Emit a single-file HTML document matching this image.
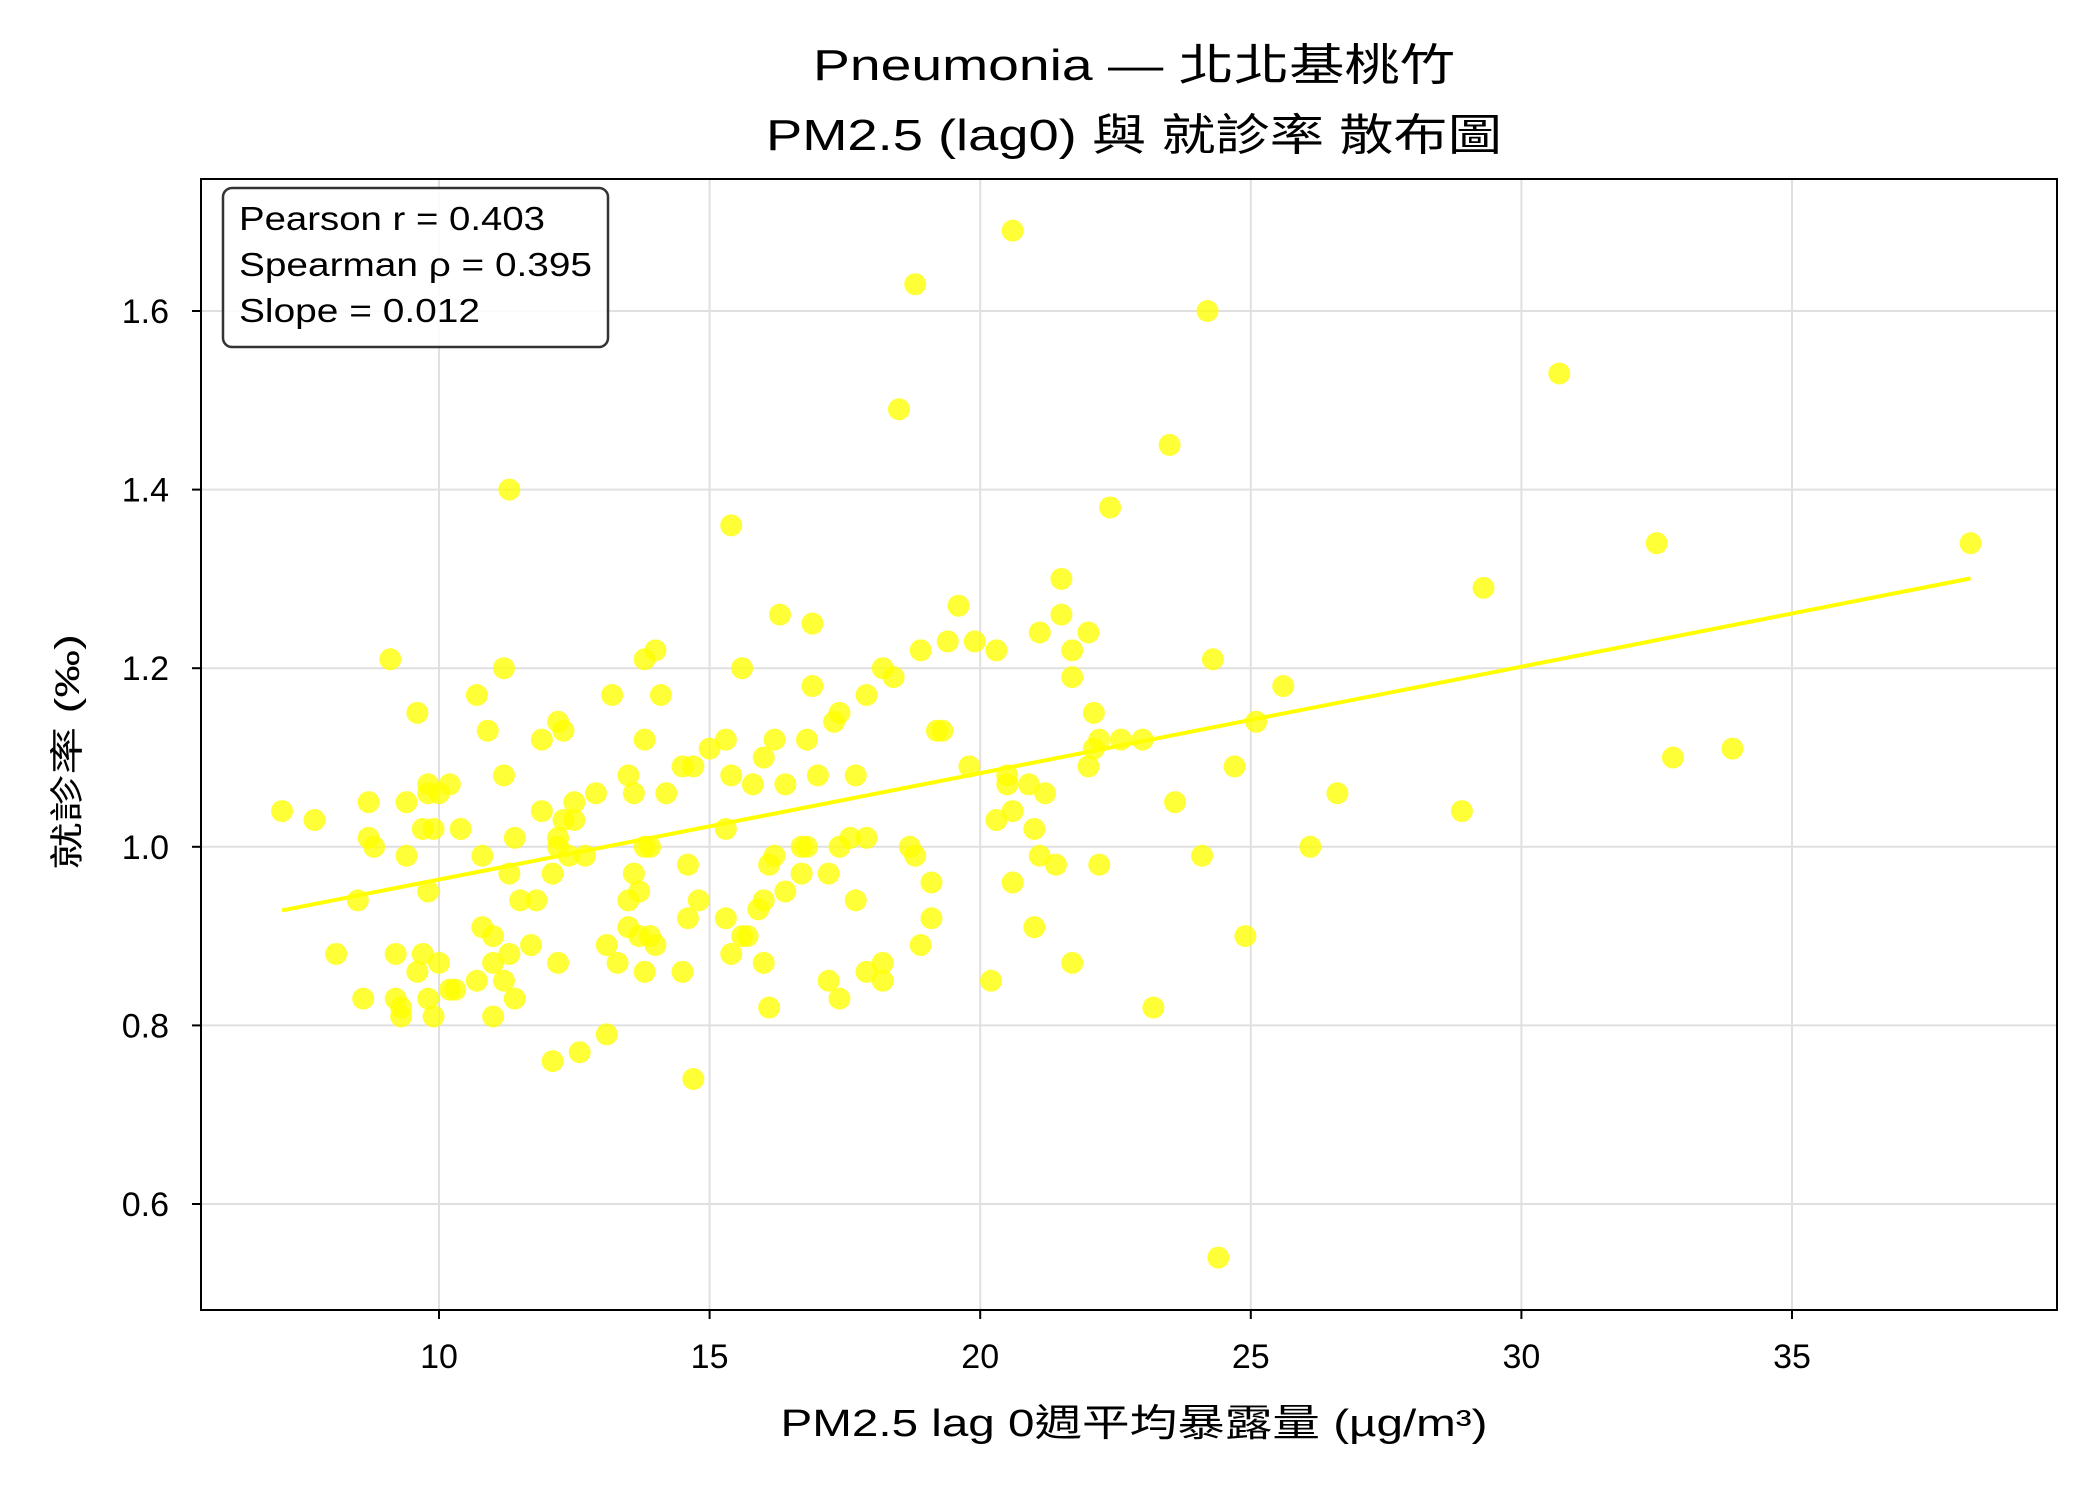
<!DOCTYPE html>
<html><head><meta charset="utf-8"><style>
html,body{margin:0;padding:0;background:#fff;}
svg{display:block;font-family:"Liberation Sans","Noto Sans CJK TC",sans-serif;}
</style></head><body>
<svg id="chart" width="2100" height="1500" viewBox="0 0 2100 1500" xmlns="http://www.w3.org/2000/svg">
<rect width="2100" height="1500" fill="#fff"/>
<text x="1134" y="80" font-size="44" text-anchor="middle" textLength="642" lengthAdjust="spacingAndGlyphs" fill="#000">Pneumonia — 北北基桃竹</text>
<text x="1134" y="150" font-size="44" text-anchor="middle" textLength="736" lengthAdjust="spacingAndGlyphs" fill="#000">PM2.5 (lag0) 與 就診率 散布圖</text>
<g id="grid"></g>
<g id="marks"></g>
<rect x="201" y="179" width="1856" height="1131" fill="none" stroke="#000" stroke-width="2"/>
<g id="axes"></g>
<text x="1134" y="1436" font-size="38" text-anchor="middle" textLength="707" lengthAdjust="spacingAndGlyphs" fill="#000">PM2.5 lag 0週平均暴露量 (µg/m³)</text>
<text transform="translate(79,752) rotate(-90)" font-size="34" text-anchor="middle" textLength="236" lengthAdjust="spacingAndGlyphs" fill="#000">就診率 (‰)</text>
<g>
<rect x="223" y="188" width="385" height="159" rx="9" fill="#fff" fill-opacity="0.85" stroke="#333" stroke-width="2.5"/>
<text x="239" y="230" font-size="33" textLength="306" lengthAdjust="spacingAndGlyphs" fill="#000">Pearson r = 0.403</text>
<text x="239" y="276" font-size="33" textLength="353" lengthAdjust="spacingAndGlyphs" fill="#000">Spearman ρ = 0.395</text>
<text x="239" y="322" font-size="33" textLength="241" lengthAdjust="spacingAndGlyphs" fill="#000">Slope = 0.012</text>
</g>
</svg>
<script>
const xTicks=[10,15,20,25,30,35];
const yTicks=[0.6,0.8,1.0,1.2,1.4,1.6];
const yTickLabels=["0.6","0.8","1.0","1.2","1.4","1.6"];
const pm25=[7.1,7.7,8.1,8.5,8.6,8.7,8.7,8.8,9.1,9.2,9.2,9.3,9.3,9.4,9.4,9.6,9.6,9.7,9.7,9.8,9.8,9.8,9.8,9.9,9.9,10.0,10.0,10.2,10.2,10.3,10.4,10.7,10.7,10.8,10.8,10.9,11.0,11.0,11.0,11.2,11.2,11.2,11.3,11.3,11.3,11.4,11.4,11.5,11.7,11.8,11.9,11.9,12.1,12.1,12.2,12.2,12.2,12.2,12.3,12.3,12.4,12.5,12.5,12.6,12.7,12.9,13.1,13.1,13.2,13.3,13.5,13.5,13.5,13.6,13.6,13.7,13.7,13.8,13.8,13.8,13.8,13.9,13.9,14.0,14.0,14.1,14.2,14.5,14.5,14.6,14.6,14.7,14.7,14.8,15.0,15.3,15.3,15.3,15.4,15.4,15.4,15.6,15.6,15.7,15.8,15.9,16.0,16.0,16.0,16.1,16.1,16.2,16.2,16.3,16.4,16.4,16.7,16.7,16.8,16.8,16.9,16.9,17.0,17.2,17.2,17.3,17.4,17.4,17.4,17.6,17.7,17.7,17.9,17.9,17.9,18.2,18.2,18.2,18.4,18.5,18.7,18.8,18.8,18.9,18.9,19.1,19.1,19.2,19.3,19.4,19.6,19.8,19.9,20.2,20.3,20.3,20.5,20.5,20.6,20.6,20.6,20.9,21.0,21.0,21.1,21.1,21.2,21.4,21.5,21.5,21.7,21.7,21.7,22.0,22.0,22.1,22.1,22.2,22.2,22.4,22.6,23.0,23.2,23.5,23.6,24.1,24.2,24.3,24.4,24.7,24.9,25.1,25.6,26.1,26.6,28.9,29.3,30.7,32.5,32.8,33.9,38.3];
const rate=[1.04,1.03,0.88,0.94,0.83,1.05,1.01,1.0,1.21,0.88,0.83,0.82,0.81,0.99,1.05,0.86,1.15,0.88,1.02,1.07,1.06,0.95,0.83,1.02,0.81,0.87,1.06,1.07,0.84,0.84,1.02,1.17,0.85,0.99,0.91,1.13,0.87,0.81,0.9,1.2,1.08,0.85,1.4,0.97,0.88,1.01,0.83,0.94,0.89,0.94,1.12,1.04,0.76,0.97,1.14,1.0,1.01,0.87,1.13,1.03,0.99,1.05,1.03,0.77,0.99,1.06,0.89,0.79,1.17,0.87,1.08,0.94,0.91,0.97,1.06,0.9,0.95,1.12,1.0,0.86,1.21,0.9,1.0,1.22,0.89,1.17,1.06,1.09,0.86,0.98,0.92,1.09,0.74,0.94,1.11,1.02,1.12,0.92,1.36,1.08,0.88,1.2,0.9,0.9,1.07,0.93,1.1,0.94,0.87,0.98,0.82,1.12,0.99,1.26,1.07,0.95,0.97,1.0,1.0,1.12,1.18,1.25,1.08,0.97,0.85,1.14,1.15,1.0,0.83,1.01,1.08,0.94,1.17,1.01,0.86,1.2,0.87,0.85,1.19,1.49,1.0,0.99,1.63,1.22,0.89,0.96,0.92,1.13,1.13,1.23,1.27,1.09,1.23,0.85,1.22,1.03,1.07,1.08,1.04,0.96,1.69,1.07,1.02,0.91,0.99,1.24,1.06,0.98,1.3,1.26,1.22,1.19,0.87,1.09,1.24,1.15,1.11,1.12,0.98,1.38,1.12,1.12,0.82,1.45,1.05,0.99,1.6,1.21,0.54,1.09,0.9,1.14,1.18,1.0,1.06,1.04,1.29,1.53,1.34,1.1,1.11,1.34];

const NS="http://www.w3.org/2000/svg";
const X0=201,X1=2057,Y0=179,Y1=1310;
function sx(v){return 439+(v-10)*(1792-439)/25;}
function sy(v){return 311+(1.6-v)*(1204-311)/1.0;}
function mk(t,a){const e=document.createElementNS(NS,t);for(const k in a)e.setAttribute(k,a[k]);return e;}
const grid=document.getElementById('grid'),axes=document.getElementById('axes'),marks=document.getElementById('marks');
xTicks.forEach(t=>{
  const g=mk('line',{x1:sx(t),x2:sx(t),y1:Y0,y2:Y1,stroke:'#e0e0e0','stroke-width':2});
  
  
  grid.appendChild(g);
  const tk=mk('line',{x1:sx(t),x2:sx(t),y1:Y1,y2:Y1+9,stroke:'#000','stroke-width':2});
  
  
  axes.appendChild(tk);
  const lb=mk('text',{x:sx(t),y:Y1+58,'font-size':34,'text-anchor':'middle',fill:'#000'});
  
  
  lb.textContent=t;axes.appendChild(lb);
});
yTicks.forEach((t,i)=>{
  const g=mk('line',{x1:X0,x2:X1,y1:sy(t),y2:sy(t),stroke:'#e0e0e0','stroke-width':2});
  
  
  grid.appendChild(g);
  const tk=mk('line',{x1:X0-9,x2:X0,y1:sy(t),y2:sy(t),stroke:'#000','stroke-width':2});
  
  
  axes.appendChild(tk);
  const lb=mk('text',{x:X0-32,y:sy(t)+12,'font-size':34,'text-anchor':'end',fill:'#000'});
  
  
  lb.textContent=yTickLabels[i];axes.appendChild(lb);
});
pm25.forEach((x,i)=>{
  const c=mk('circle',{cx:sx(x),cy:sy(rate[i]),r:11,fill:'#ffff00','fill-opacity':0.78});
  
  
  marks.appendChild(c);
});
const n=pm25.length;let mx=0,my=0;pm25.forEach((x,i)=>{mx+=x;my+=rate[i];});mx/=n;my/=n;
let sxy=0,sxx=0;pm25.forEach((x,i)=>{sxy+=(x-mx)*(rate[i]-my);sxx+=(x-mx)*(x-mx);});
const b=sxy/sxx,a=my-b*mx;const xa=Math.min(...pm25),xb=Math.max(...pm25);
const fl=mk('line',{x1:sx(xa),y1:sy(a+b*xa),x2:sx(xb),y2:sy(a+b*xb),stroke:'#ffff00','stroke-width':4});


marks.appendChild(fl);
</script>
</body></html>
